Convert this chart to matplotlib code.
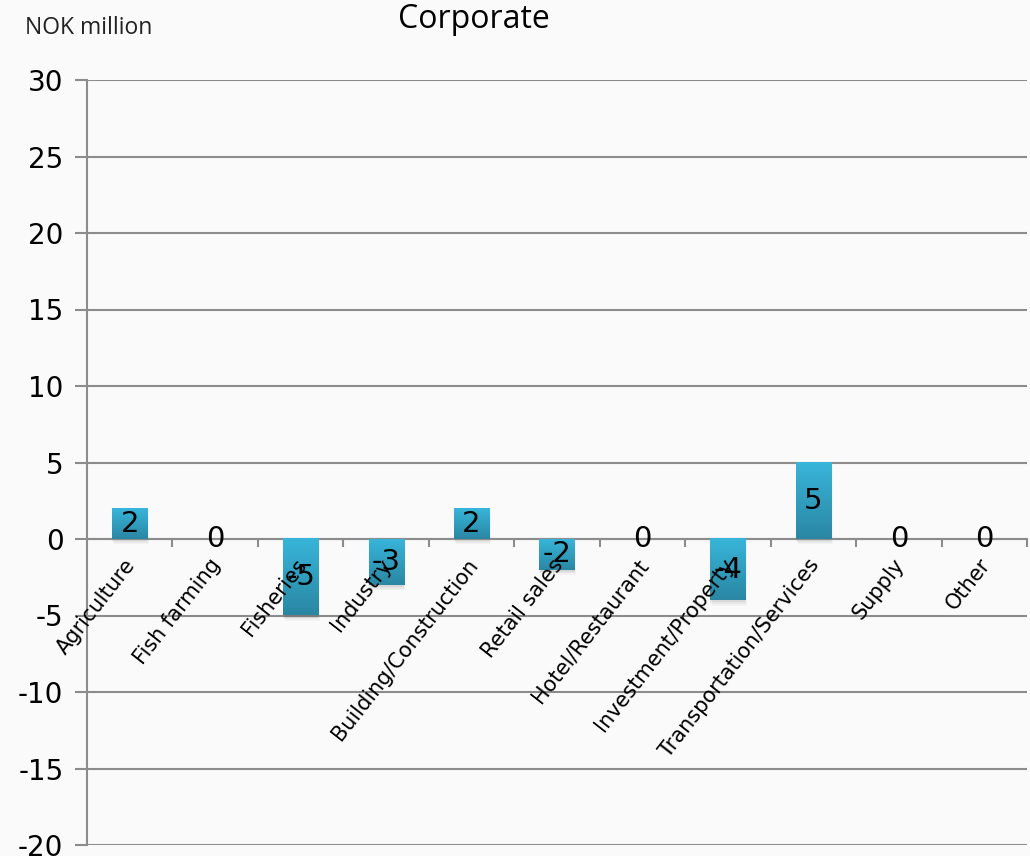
import numpy as np
import matplotlib
matplotlib.use('Agg')
import matplotlib.pyplot as plt
from matplotlib.colors import LinearSegmentedColormap
from matplotlib.patches import Rectangle
import matplotlib.transforms as mtransforms

plt.rcParams['axes.unicode_minus'] = False
plt.rcParams['font.family'] = ['DejaVu Sans']

# data
categories = ['Agriculture', 'Fish farming', 'Fisheries', 'Industry',
              'Building/Construction', 'Retail sales', 'Hotel/Restaurant',
              'Investment/Property', 'Transportation/Services', 'Supply', 'Other']
values = [2, 0, -5, -3, 2, -2, 0, -4, 5, 0, 0]
y_ticks = [-20, -15, -10, -5, 0, 5, 10, 15, 20, 25, 30]

grid_col = '#8c8c8c'
bar_cmap = LinearSegmentedColormap.from_list('bar', ['#2a87a3', '#38b5da'])

fig = plt.figure(figsize=(10.30, 8.56), dpi=100, facecolor='#fafafa')
ax = fig.add_axes([87/1030, 11/856, 940/1030, 765/856])
ax.set_facecolor('#fafafa')

x = np.arange(len(categories))
width = 0.41

# bars: soft shadow + vertical gradient
grad = np.linspace(0, 1, 100).reshape(-1, 1)
for xi, v in zip(x, values):
    if v == 0:
        continue
    lo, hi = min(0, v), max(0, v)
    for k, a in enumerate([0.06, 0.045, 0.03]):
        sh = Rectangle((xi - width/2 + 0.01 * k, lo - 0.15 - 0.1 * k), width, hi - lo,
                       facecolor='black', alpha=a, edgecolor='none', zorder=2)
        ax.add_patch(sh)
    ax.imshow(grad, cmap=bar_cmap, aspect='auto', origin='lower',
              extent=[xi - width/2, xi + width/2, lo, hi], zorder=3)

ax.set_xlim(-0.5, len(categories) - 0.5)
ax.set_ylim(-20, 30)

# gridlines
ax.set_yticks(y_ticks)
ax.yaxis.grid(True, color=grid_col, linewidth=1.5, zorder=1)
ax.set_axisbelow(True)
ax.tick_params(axis='y', length=9, width=1.5, color=grid_col, labelsize=20,
               pad=8, labelcolor='black')

# category axis at zero
ax.spines['bottom'].set_position(('data', 0))
ax.spines['bottom'].set_color(grid_col)
ax.spines['bottom'].set_linewidth(1.5)
ax.spines['left'].set_color(grid_col)
ax.spines['left'].set_linewidth(1.5)
ax.spines['top'].set_visible(False)
ax.spines['right'].set_visible(False)
ax.set_xticks(np.arange(0.5, len(categories), 1))
ax.set_xticklabels([])
ax.tick_params(axis='x', length=6, width=1.5, color=grid_col, direction='out')

# category labels, rotated
off = mtransforms.offset_copy(ax.transData, fig=fig, x=10, y=-16, units='dots')
for xi, name in zip(x, categories):
    ax.text(xi, 0, name, transform=off, rotation=52, ha='right', va='top',
            fontsize=15, zorder=5)

# value labels in bar centers
for xi, v in zip(x, values):
    ax.text(xi, v/2, str(v), ha='center', va='center', fontsize=21, zorder=6)

fig.text(474/1030, 1 - 20/856, 'Corporate', ha='center', va='center',
         fontsize=23, family=['Open Sans', 'DejaVu Sans'])
fig.text(25/1030, 1 - 28/856, 'NOK million', ha='left', va='center',
         fontsize=16.5, family=['Open Sans', 'DejaVu Sans'], color='#222222')

fig.savefig('out.png', dpi=100, facecolor=fig.get_facecolor())
